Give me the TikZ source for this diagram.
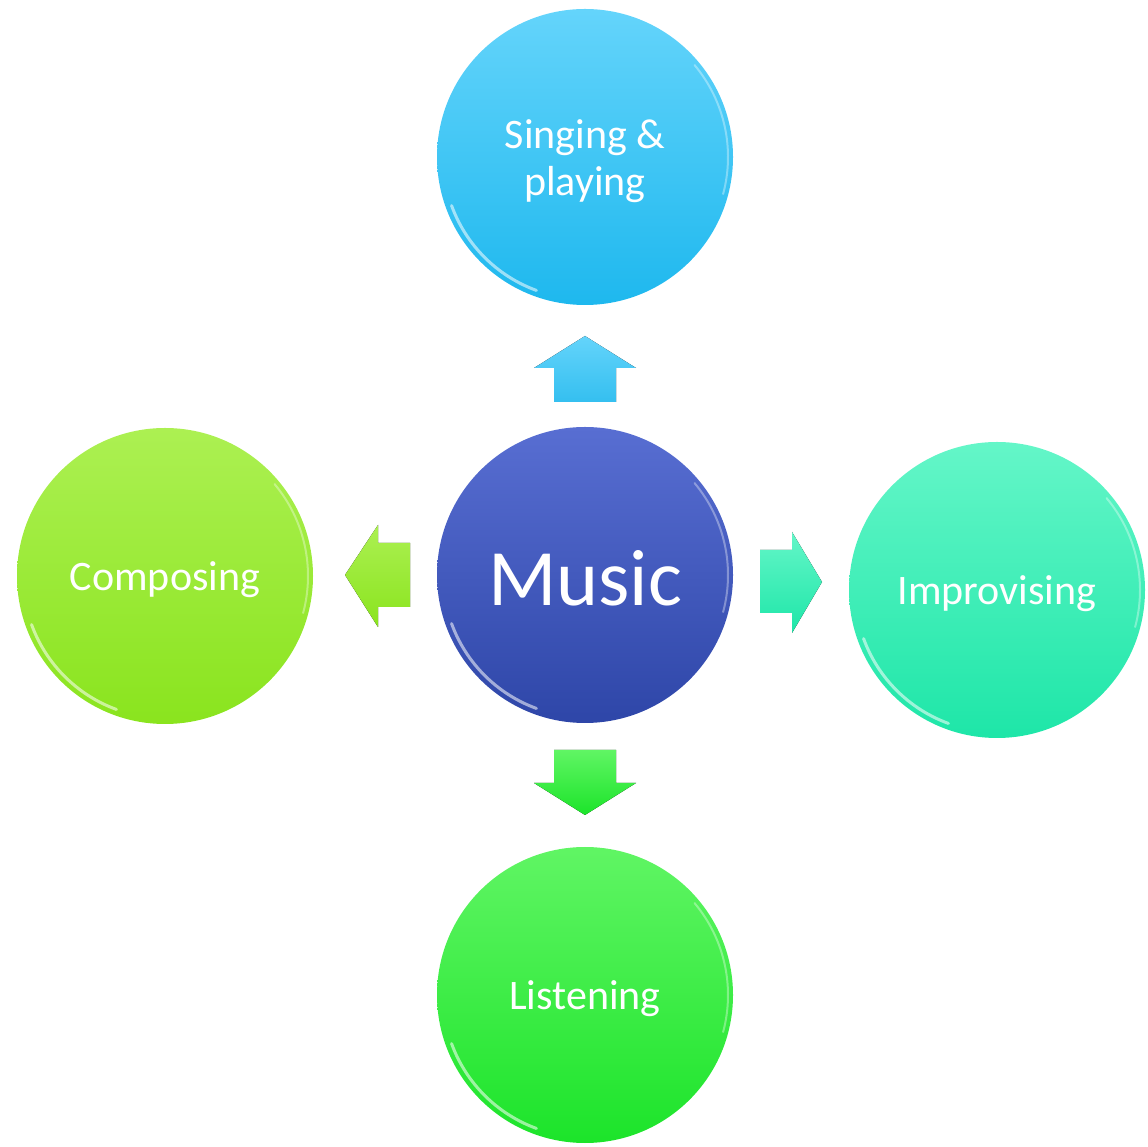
\documentclass[tikz,border=0pt]{standalone}
\usepackage{fontspec}
\setmainfont{Carlito}
\usetikzlibrary{calc}
\definecolor{topA}{RGB}{100,212,251}
\definecolor{topB}{RGB}{30,184,238}
\definecolor{musA}{RGB}{88,110,210}
\definecolor{musB}{RGB}{46,70,168}
\definecolor{leftA}{RGB}{172,240,82}
\definecolor{leftB}{RGB}{138,228,30}
\definecolor{rightA}{RGB}{100,246,200}
\definecolor{rightB}{RGB}{30,230,168}
\definecolor{botA}{RGB}{96,245,100}
\definecolor{botB}{RGB}{28,228,42}
\tikzset{
  ball/.style={circle, minimum size=296pt, inner sep=0pt},
  balltext/.style={text=white, font=\fontsize{42}{47}\selectfont, align=center, yshift=-4pt},
  gloss/.style={white, opacity=0.55, line width=3pt, line cap=round},
  blockarrow/.style={draw=none}
}
\begin{document}
\begin{tikzpicture}[x=1pt,y=1pt]
\useasboundingbox (0,0) rectangle (1148,1146);
% nodes
\node[ball, top color=musA, bottom color=musB,
  label={[balltext, font=\fontsize{80}{90}\selectfont, yshift=1pt]center:Music}] (music) at (585,571) {};
\node[ball, top color=topA, bottom color=topB,
  label={[balltext]center:Singing \&\\playing}] (sing) at (585,989) {};
\node[ball, top color=leftA, bottom color=leftB,
  label={[balltext]center:Composing}] (comp) at (165,570) {};
\node[ball, top color=rightA, bottom color=rightB,
  label={[balltext]center:Improvising}] (impr) at (997,556) {};
\node[ball, top color=botA, bottom color=botB,
  label={[balltext]center:Listening}] (list) at (585,151) {};
% gloss highlights
\foreach \n in {music,sing,comp,impr,list}{
  \draw[gloss] ($(\n.center)+(200:142)$) arc (200:250:142);
  \draw[white, opacity=0.35, line width=2pt, line cap=round] ($(\n.center)+(-15:143)$) arc (-15:40:143);
}
% block arrows
\begin{scope}[shift={(music.center)}]
  \fill[blockarrow, top color=topA, bottom color=topB!90!white]
    (-31,173) -- (-31,207) -- (-51,207) -- (0,239) -- (51,207) -- (31,207) -- (31,173) -- cycle;
  \fill[blockarrow, top color=botA, bottom color=botB]
    (-31,-175) -- (-31,-208) -- (-51,-208) -- (0,-240) -- (51,-208) -- (31,-208) -- (31,-175) -- cycle;
  \fill[blockarrow, top color=leftA, bottom color=leftB]
    (-175,32) -- (-207,32) -- (-207,50) -- (-240,0) -- (-207,-52) -- (-207,-32) -- (-175,-32) -- cycle;
  \fill[blockarrow, top color=rightA, bottom color=rightB]
    (175,25) -- (207,25) -- (207,43) -- (237,-7) -- (207,-58) -- (207,-38) -- (175,-38) -- cycle;
\end{scope}
\end{tikzpicture}
\end{document}
